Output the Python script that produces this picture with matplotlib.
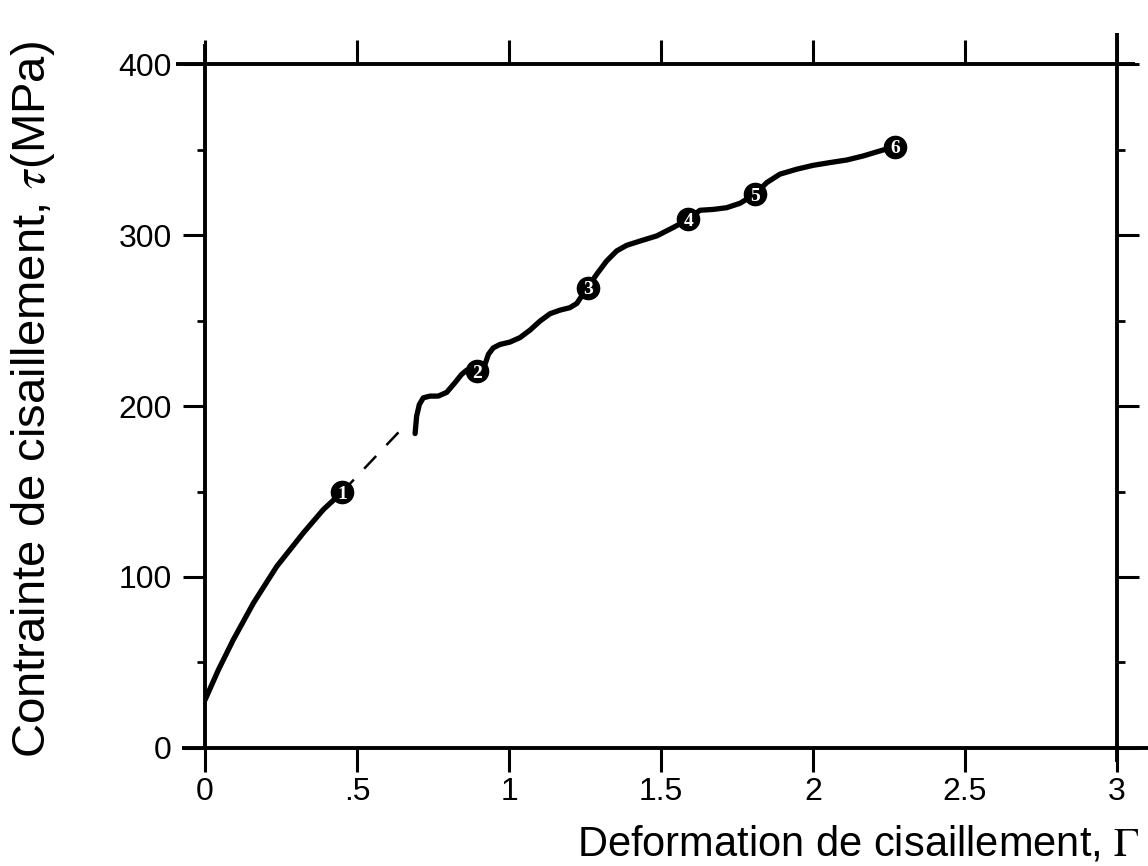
import matplotlib
matplotlib.use("Agg")
import matplotlib.pyplot as plt

# ---------------- data ----------------
seg1_x = [0.0, 0.044, 0.093, 0.159, 0.236, 0.323, 0.389, 0.45]
seg1_y = [28.1, 45.7, 63.3, 84.7, 106.2, 125.7, 139.4, 149.5]

dash_x = [0.45, 0.665]
dash_y = [149.5, 190]

seg2_x = [0.691, 0.696, 0.705, 0.718, 0.740, 0.767, 0.795, 0.822, 0.844, 0.861,
          0.896, 0.921, 0.932, 0.948, 0.970, 1.003, 1.036, 1.069, 1.102, 1.135,
          1.168, 1.200, 1.223, 1.239, 1.259, 1.288, 1.321, 1.354, 1.387, 1.431,
          1.486, 1.540, 1.590, 1.628, 1.672, 1.716, 1.760, 1.809, 1.848, 1.891,
          1.946, 2.001, 2.056, 2.111, 2.166, 2.220, 2.270]
seg2_y = [183.9, 194.0, 200.9, 204.8, 205.8, 205.8, 208.0, 213.6, 218.5, 221.0,
          220.4, 224.3, 230.2, 234.0, 236.0, 237.4, 240.0, 244.4, 249.7, 254.0,
          256.1, 257.5, 260.0, 264.3, 269.3, 277.0, 284.8, 290.7, 294.0, 296.5,
          299.5, 304.4, 309.2, 314.5, 315.0, 316.0, 318.6, 323.9, 330.7, 335.6,
          338.5, 340.8, 342.4, 343.9, 346.3, 349.2, 351.7]

mark_x = [0.45, 0.896, 1.259, 1.590, 1.809, 2.270]
mark_y = [149.5, 220.4, 269.3, 309.2, 323.9, 351.7]
mark_labels = ["1", "2", "3", "4", "5", "6"]

xticks = [0, 0.5, 1, 1.5, 2, 2.5, 3]
xticklabels = ["0", ".5", "1", "1.5", "2", "2.5", "3"]
yticks = [0, 100, 200, 300, 400]
yticklabels = ["0", "100", "200", "300", "400"]
yminor = [50, 150, 250, 350]

# ---------------- style ----------------
sans = "Liberation Sans"
plt.rcParams["mathtext.fontset"] = "stix"

fig = plt.figure(figsize=(11.48, 8.66), dpi=100)
ax = fig.add_axes([0.1786, 0.1363, 0.7944, 0.7897])
ax.set_xlim(0, 3)
ax.set_ylim(0, 400)

for s in ax.spines.values():
    s.set_visible(False)

lw_axis = 2.8
ax.plot([-0.025, 1.04], [0, 0], color="black", lw=lw_axis, transform=ax.transAxes, clip_on=False, solid_capstyle="butt")
ax.plot([-0.032, 1.02], [1, 1], color="black", lw=lw_axis, transform=ax.transAxes, clip_on=False, solid_capstyle="butt")
ax.plot([0, 0], [-0.002, 1.03], color="black", lw=lw_axis, transform=ax.transAxes, clip_on=False, solid_capstyle="butt")
ax.plot([1, 1], [-0.02, 1.045], color="black", lw=lw_axis, transform=ax.transAxes, clip_on=False, solid_capstyle="butt")

ax.set_xticks(xticks)
ax.set_xticklabels(xticklabels, fontsize=23, family=sans)
ax.set_yticks(yticks)
ax.set_yticklabels(yticklabels, fontsize=23, family=sans)
ax.set_yticks(yminor, minor=True)
ax.tick_params(axis="x", which="major", direction="out", length=17, width=2.2,
               top=True, bottom=True, pad=4)
ax.tick_params(axis="y", which="major", direction="out", length=16, width=2.2,
               left=True, right=True, pad=8)
ax.tick_params(axis="y", which="minor", direction="out", length=6, width=2.0,
               left=True, right=True)
ax.tick_params(axis="x", which="minor", bottom=False, top=False)

# curve
ax.plot(seg1_x, seg1_y, color="black", lw=3.8, solid_capstyle="round", solid_joinstyle="round")
ax.plot(dash_x, dash_y, color="black", lw=1.8, dashes=(7, 6))
ax.plot(seg2_x, seg2_y, color="black", lw=3.8, solid_capstyle="round", solid_joinstyle="round")

# numbered markers
ax.plot(mark_x, mark_y, "o", color="black", markersize=16, zorder=5)
for mx, my, lab in zip(mark_x, mark_y, mark_labels):
    ax.text(mx, my, lab, color="white", fontsize=14, fontweight="bold",
            family="Liberation Serif", ha="center", va="center_baseline", zorder=6)

# labels
ax.set_ylabel(r"Contrainte de cisaillement, $\tau$(MPa)", fontsize=34, family=sans)
ax.yaxis.set_label_coords(-0.162, 0.51)
fig.text(0.993, 0.012, r"Deformation de cisaillement, $\Gamma$", fontsize=30,
         family=sans, ha="right", va="baseline")

fig.savefig("out.png", dpi=100)
